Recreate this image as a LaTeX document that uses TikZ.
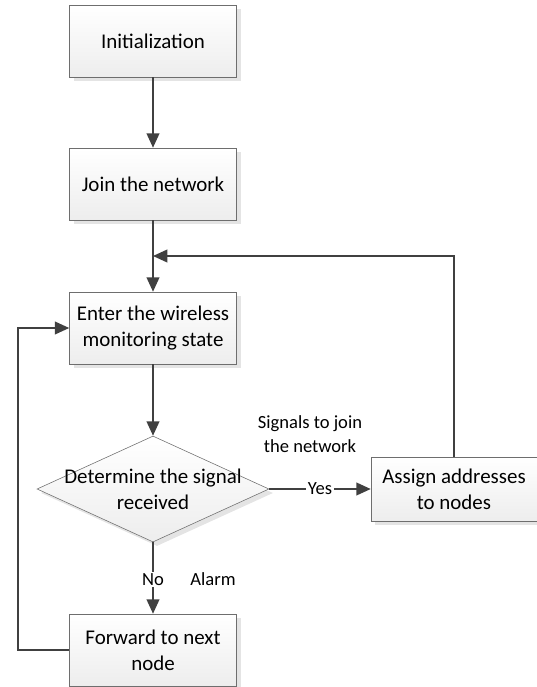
\documentclass[tikz,border=0pt]{standalone}
\usepackage{fontspec}
\setmainfont{Carlito}
\usepackage{xcolor}
\usetikzlibrary{shapes,arrows.meta,positioning,calc,shadows}
\definecolor{linegray}{RGB}{64,64,64}
\definecolor{edgegray}{RGB}{110,110,110}

\begin{document}
\begin{tikzpicture}[
    box/.style={rectangle, draw=edgegray, top color=white, bottom color=gray!14, minimum width=4.175cm, minimum height=1.8cm, align=center, font=\fontsize{14.9}{18.4}\selectfont, drop shadow={shadow xshift=0.1cm, shadow yshift=-0.1cm, fill=gray!35, opacity=0.6}},
    decision/.style={diamond, draw=edgegray, top color=white, bottom color=gray!14, minimum width=5.8cm, minimum height=2.65cm, inner sep=0pt, drop shadow={shadow xshift=0.1cm, shadow yshift=-0.1cm, fill=gray!35, opacity=0.6}},
    dtext/.style={align=center, font=\fontsize{14.9}{18.4}\selectfont},
    arrow/.style={-{Triangle[length=3.6mm, width=3.2mm]}, line width=1.1pt, draw=linegray},
    lbl/.style={font=\fontsize{13.2}{17}\selectfont, align=center}
]
\useasboundingbox (0,0) rectangle (13.425,-17.175);

% Main column
\node[box] (init) at (3.825,-1.025) {Initialization};
\node[box] (join) at (3.825,-4.6) {Join the network};
\node[box] (enter) at (3.825,-8.2) {Enter the wireless\\monitoring state};
\node[decision] (decide) at (3.825,-12.225) {};
\node[dtext] (decidetext) at (decide) {Determine the signal\\received};
\node[box] (forward) at (3.825,-16.25) {Forward to next\\node};

% Right branch
\node[box, minimum width=4.15cm, minimum height=1.6cm] (assign) at (11.35,-12.225) {Assign addresses\\to nodes};

% Helper points
\coordinate (merge) at (3.825,-6.4);
\coordinate (leftloop) at (0.45,-8.2);

% Arrows
\draw[arrow] (init) -- (join);
\draw[arrow] (join) -- (enter);
\draw[arrow] (enter) -- (decide);
\draw[arrow] (decide.east) -- node[lbl, fill=white, inner sep=1pt] {Yes} (assign);
\draw[arrow] (decide.south) -- node[lbl, fill=white, inner sep=1pt, pos=0.52] (no) {No} (forward);
\draw[arrow] (assign.north) |- (merge);
\draw[arrow] (forward.west) -| (leftloop) -- (enter.west);

% Labels
\node[lbl] (alarm) at (5.325,-14.475) {Alarm};
\node[lbl] (signals) at (7.75,-10.85) {Signals to join\\the network};

\end{tikzpicture}
\end{document}
